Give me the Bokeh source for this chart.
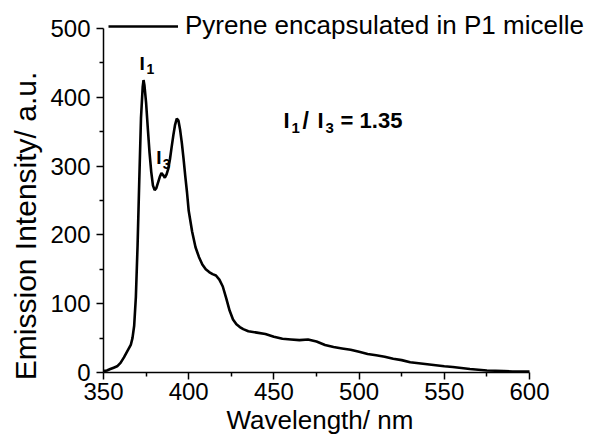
from math import pi
from bokeh.plotting import figure
from bokeh.models import Range1d, FixedTicker, Label, Legend, LegendItem
from bokeh.embed import file_html
from bokeh.resources import INLINE

# ---------------- data ----------------
wavelength = [350, 352, 354, 356, 358, 360, 362, 364, 366, 367, 368, 369, 370, 371,
              372, 373, 373.5, 374, 375, 376, 377, 378, 379, 380, 381, 382, 383, 384,
              385, 386, 387, 388, 389, 390, 391, 392, 393, 394, 395, 396, 397, 398,
              399, 400, 402, 404, 406, 408, 410, 412, 414, 416, 418, 420, 422, 424,
              426, 428, 430, 432, 435, 440, 445, 450, 455, 460, 465, 470, 475, 480,
              485, 490, 495, 500, 505, 510, 515, 520, 525, 530, 535, 540, 545, 550,
              555, 560, 565, 570, 575, 580, 585, 590, 595, 600]
intensity = [2, 3, 5, 7, 9, 14, 22, 31, 40, 50, 68, 110, 185, 280,
             370, 415, 425, 418, 392, 355, 320, 292, 272, 265, 268, 276, 284, 290,
             287, 283, 288, 296, 310, 328, 345, 360, 369, 366, 352, 333, 310, 285,
             262, 235, 205, 182, 168, 157, 150, 146, 143, 141, 135, 125, 108, 90,
             77, 70, 66, 63, 60, 58, 56, 52, 49, 48, 47, 48, 45, 40,
             37, 35, 33, 30, 27, 25, 23, 20, 18, 15, 13.5, 12, 10.5, 9,
             8, 6.5, 5, 4, 3, 2.5, 2, 1.5, 1.5, 1.5]
series_name = "Pyrene encapsulated in P1 micelle"
x_ticks = [350, 400, 450, 500, 550, 600]
y_ticks = [0, 100, 200, 300, 400, 500]
x_label = "Wavelength/ nm"
y_label = "Emission Intensity/ a.u."
ratio_value = "1.35"

FONT = "Liberation Sans"
W, H = 602, 440
LEFT, BOTTOM = 103, 68          # frame left / bottom borders (px)
AX_W, AX_H = 426, 344           # pixel length of the drawn axes
x0, x1 = x_ticks[0], x_ticks[-1]
y0, y1 = y_ticks[0], y_ticks[-1]
# frame extends to the canvas top/right so that the legend is not clipped
x_max = x0 + (x1 - x0) * (W - LEFT) / AX_W
y_max = y0 + (y1 - y0) * (H - BOTTOM) / AX_H

p = figure(width=W, height=H, output_backend="svg", toolbar_location=None,
           x_range=Range1d(x0, x_max), y_range=Range1d(y0, y_max),
           min_border_left=LEFT, min_border_right=0, min_border_top=0,
           min_border_bottom=BOTTOM)
p.outline_line_color = None
p.grid.visible = False
p.background_fill_color = "white"
p.border_fill_color = "white"

r = p.line(wavelength, intensity, line_color="black", line_width=2.6)

x_minor = [(a + b) / 2 for a, b in zip(x_ticks[:-1], x_ticks[1:])]
y_minor = [(a + b) / 2 for a, b in zip(y_ticks[:-1], y_ticks[1:])]
p.xaxis.ticker = FixedTicker(ticks=x_ticks, minor_ticks=x_minor)
p.yaxis.ticker = FixedTicker(ticks=y_ticks, minor_ticks=y_minor)
p.xaxis.bounds = (x0, x1)
p.yaxis.bounds = (y0, y1)

for ax in (p.xaxis[0], p.yaxis[0]):
    ax.axis_line_color = "black"
    ax.axis_line_width = 1.5
    ax.major_tick_line_color = "black"
    ax.major_tick_line_width = 1.5
    ax.minor_tick_line_color = "black"
    ax.minor_tick_line_width = 1.5
    ax.major_tick_out = 7
    ax.major_tick_in = 0
    ax.minor_tick_out = 4
    ax.minor_tick_in = 0
    ax.major_label_text_font = FONT
    ax.major_label_text_font_size = "24px"
    ax.major_label_text_color = "black"
p.xaxis.major_label_standoff = 3
p.yaxis.major_label_standoff = 6

# axis titles, placed in the side panels
p.add_layout(Label(x=477, y=0, y_offset=-47, text=x_label, text_align="center",
                   text_baseline="alphabetic", text_font=FONT, text_font_size="26px",
                   text_color="black"), "below")
p.add_layout(Label(x=350, y=213, x_offset=-78, text=y_label, angle=pi / 2,
                   text_align="center", text_baseline="middle", text_font=FONT,
                   text_font_size="30px", text_color="black"), "left")

# legend (location in px from frame bottom-left)
legend = Legend(items=[LegendItem(label=series_name, renderers=[r])],
                location=(5, 331), glyph_width=70, glyph_height=20, label_height=20,
                label_standoff=7, padding=0, margin=0, spacing=0,
                border_line_color=None, background_fill_alpha=0,
                label_text_font=FONT, label_text_font_size="26px",
                label_text_color="black")
p.add_layout(legend)


def bold(x, y, txt, size, dx=0, dy=0):
    p.add_layout(Label(x=x, y=y, x_offset=dx, y_offset=dy, text=txt,
                       text_align="left", text_baseline="alphabetic",
                       text_font=FONT, text_font_style="bold",
                       text_font_size=size, text_color="black"))


# peak labels
bold(371.2, 449, "I", "19px")
bold(371.2, 449, "1", "14px", dx=7, dy=-5)
bold(381, 312, "I", "19px")
bold(381, 312, "3", "14px", dx=6.5, dy=-6.5)

# ratio annotation
bold(455.7, 366, "I", "22px")
bold(455.7, 366, "1", "15px", dx=8, dy=-7)
bold(455.7, 366, "/", "23px", dx=19)
bold(455.7, 366, "I", "22px", dx=34)
bold(455.7, 366, "3", "15px", dx=42, dy=-7)
bold(455.7, 366, "= " + ratio_value, "22px", dx=57)

open("out.html", "w").write(file_html(p, INLINE))
